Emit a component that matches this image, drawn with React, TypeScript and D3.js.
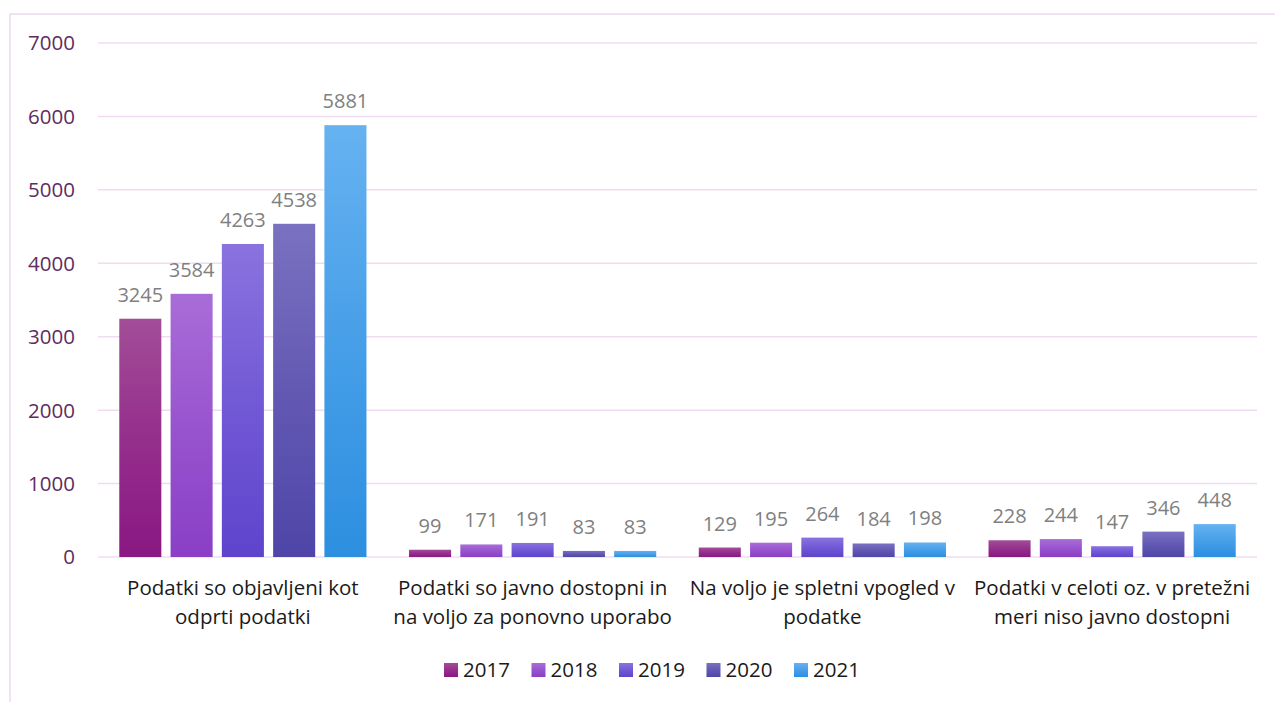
import * as d3 from 'd3';

// Data
const categories = [
  'Podatki so objavljeni kot odprti podatki',
  'Podatki so javno dostopni in na voljo za ponovno uporabo',
  'Na voljo je spletni vpogled v podatke',
  'Podatki v celoti oz. v pretežni meri niso javno dostopni',
];
const categoryLines = [
  ['Podatki so objavljeni kot', 'odprti podatki'],
  ['Podatki so javno dostopni in', 'na voljo za ponovno uporabo'],
  ['Na voljo je spletni vpogled v', 'podatke'],
  ['Podatki v celoti oz. v pretežni', 'meri niso javno dostopni'],
];
const years = ['2017', '2018', '2019', '2020', '2021'];
const values2017 = [3245, 99, 129, 228];
const values2018 = [3584, 171, 195, 244];
const values2019 = [4263, 191, 264, 147];
const values2020 = [4538, 83, 184, 346];
const values2021 = [5881, 83, 198, 448];
const seriesValues = [values2017, values2018, values2019, values2020, values2021];
const yTicks = [0, 1000, 2000, 3000, 4000, 5000, 6000, 7000];

// gradient stops per year: [top, bottom]
const gradientColors: [string, string][] = [
  ['#a24d98', '#8a1783'],
  ['#a96dd7', '#8a3fc6'],
  ['#8a73df', '#5e44cc'],
  ['#7b71c1', '#4f45a8'],
  ['#66b2f1', '#2d8fe0'],
];

const W = 1275;
const H = 702;
const FONT = '"Open Sans", "Noto Sans", sans-serif';

export default function App() {
  const x = d3.scaleBand<string>().domain(categories).range([98, 1257]);
  const xi = d3
    .scaleBand<string>()
    .domain(years)
    .range([0, x.bandwidth()])
    .paddingInner(0.18)
    .paddingOuter(0.415);
  const y = d3.scaleLinear().domain([0, 7000]).range([557, 43]);

  const legendX = d3.scalePoint<string>().domain(years).range([444, 794]);

  return (
    <svg
      width={W}
      height={H}
      style={{ position: 'absolute', left: 0, top: 0, display: 'block', background: '#fff' }}
      fontFamily={FONT}
    >
      <defs>
        {gradientColors.map(([top, bottom], i) => (
          <linearGradient key={i} id={`g${i}`} x1="0" y1="0" x2="0" y2="1">
            <stop offset="0%" stopColor={top} />
            <stop offset="50%" stopColor={d3.interpolateRgb(top, bottom)(0.55)} />
            <stop offset="100%" stopColor={bottom} />
          </linearGradient>
        ))}
      </defs>

      {/* chart border */}
      <rect x={10} y={14} width={W + 20} height={H + 20} fill="none" stroke="#ecd7ef" strokeWidth={1.5} />

      {/* gridlines */}
      {yTicks.map((t) => (
        <line key={t} x1={98} x2={1257} y1={y(t)} y2={y(t)} stroke="#efdcf0" strokeWidth={1.5} />
      ))}

      {/* y tick labels */}
      {yTicks.map((t) => (
        <text key={t} x={75} y={y(t)} dy="0.36em" textAnchor="end" fontSize={20.5} fill="#5f2c61">
          {t}
        </text>
      ))}

      {/* bars */}
      {years.map((yr, s) =>
        categories.map((c, ci) => {
          const v = seriesValues[s][ci];
          const bx = (x(c) ?? 0) + (xi(yr) ?? 0);
          return (
            <g key={`${yr}-${ci}`}>
              <rect
                x={bx}
                y={y(v)}
                width={xi.bandwidth()}
                height={y(0) - y(v)}
                fill={`url(#g${s})`}
              />
              <text
                x={bx + xi.bandwidth() / 2}
                y={y(v) - 17}
                textAnchor="middle"
                fontSize={20}
                fill="#808080"
              >
                {v}
              </text>
            </g>
          );
        })
      )}

      {/* category labels */}
      {categories.map((c, ci) => (
        <text
          key={c}
          x={(x(c) ?? 0) + x.bandwidth() / 2}
          textAnchor="middle"
          fontSize={20.5}
          fill="#1a1a1a"
        >
          {categoryLines[ci].map((line, li) => (
            <tspan key={li} x={(x(c) ?? 0) + x.bandwidth() / 2} y={595 + li * 29}>
              {line}
            </tspan>
          ))}
        </text>
      ))}

      {/* legend */}
      {years.map((yr, s) => (
        <g key={yr} transform={`translate(${legendX(yr)},663)`}>
          <rect width={14} height={14} fill={`url(#g${s})`} />
          <text x={19} y={7} dy="0.36em" fontSize={20.5} fill="#1a1a1a">
            {yr}
          </text>
        </g>
      ))}
    </svg>
  );
}
